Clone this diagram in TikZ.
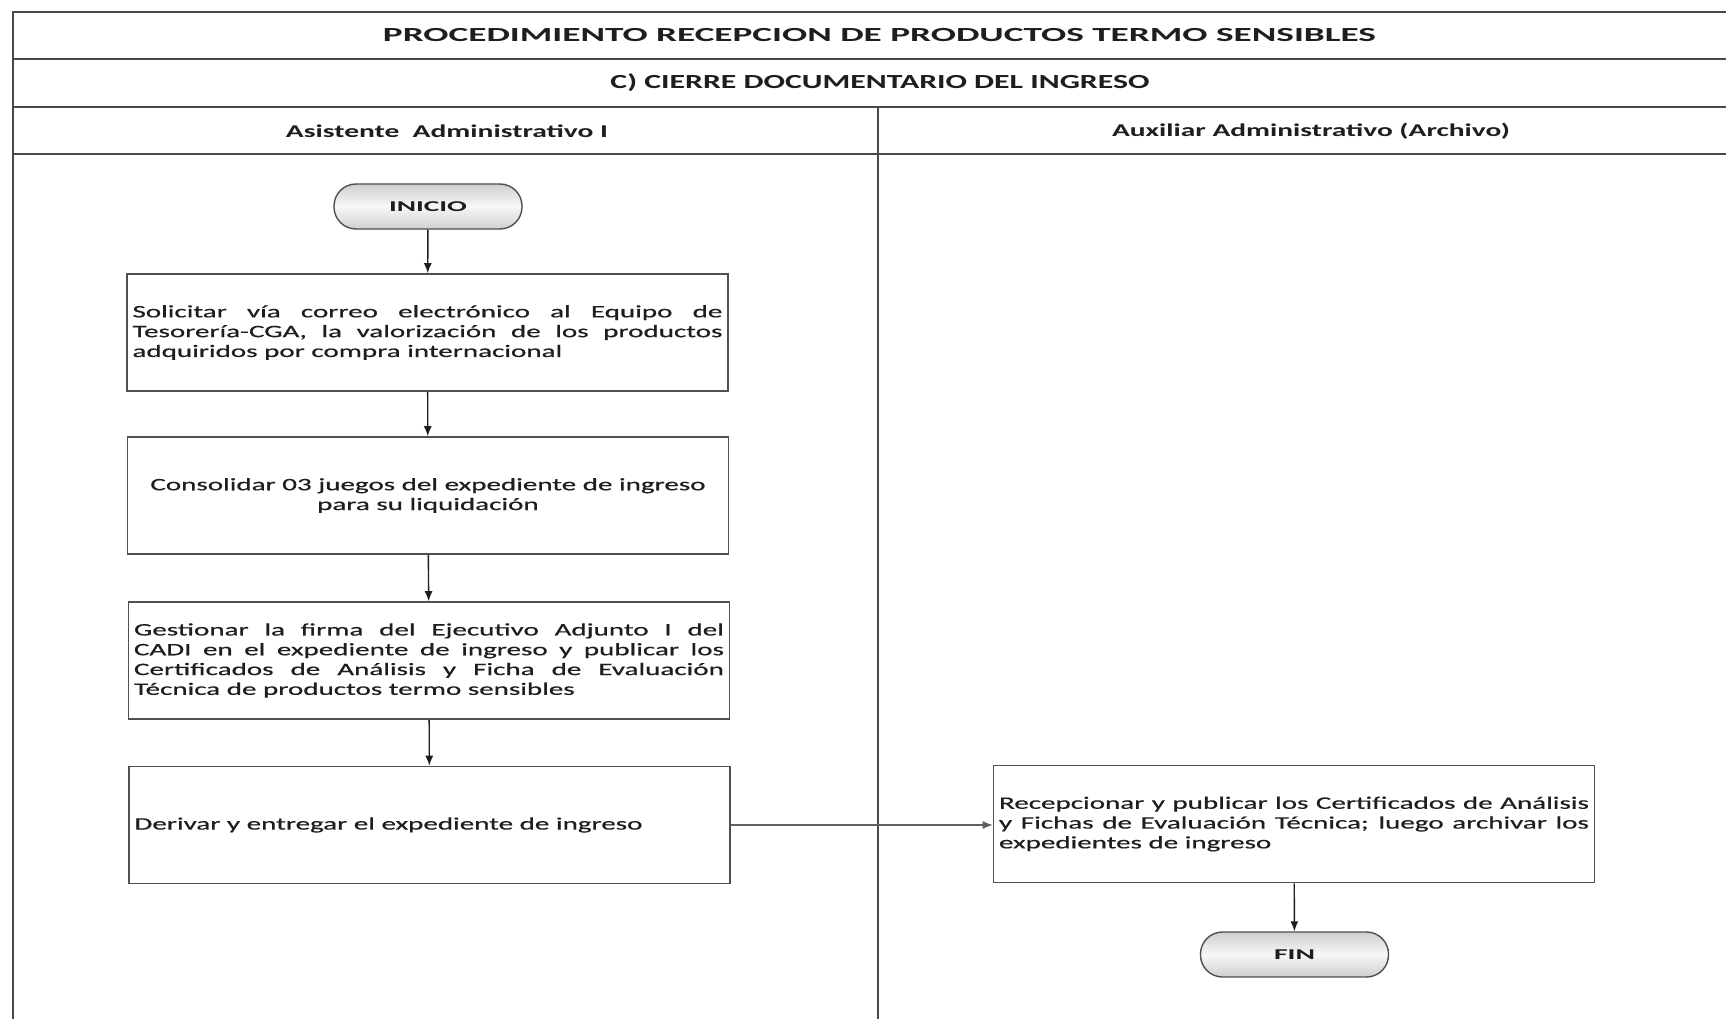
\documentclass[tikz,border=0pt]{standalone}
\usepackage{fontspec}
\usepackage{graphicx}
\setmainfont{Carlito}
\newfontfamily\bodyfont{Carlito}[FakeBold=0.45]
\usetikzlibrary{arrows.meta,shadings}

\definecolor{rule}{HTML}{4A4A4A}
\definecolor{ink}{HTML}{1E1E1E}
\definecolor{edge}{HTML}{505050}

% body paragraphs: set narrow, then widened horizontally
\newlength\bodyw \setlength\bodyw{355.4pt}
\newcommand\bodyscale{1.66}
\newcommand\jl[1]{\makebox[\linewidth][s]{#1}\par}
\newcommand\bodytext[1]{\scalebox{\bodyscale}[1]{\parbox{\bodyw}{\bodyfont\fontsize{17.5}{19.8}\selectfont #1}}}
% single bold line stretched to a given width
\newcommand\fitw[3]{\resizebox{#1}{\height}{\fontsize{#2}{#2}\selectfont\bfseries #3}}

\tikzset{
  stepbox/.style={draw=edge, line width=1.6pt, fill=white, minimum width=601pt,
    minimum height=117pt, inner sep=0pt, text=ink},
  terminal/.style={draw=edge, line width=1.4pt, rounded corners=22pt,
    minimum width=188pt, minimum height=45pt, inner sep=0pt, text=ink,
    top color=gray!38, bottom color=gray!38, middle color=gray!6},
  flow/.style={draw=ink, line width=1.4pt, -{Latex[length=10pt,width=8pt]}},
  handoff/.style={flow, draw=gray!75!black, line width=1.2pt},
  tablerule/.style={draw=rule, line width=2pt},
  heading/.style={text=ink, inner sep=0pt}
}

\begin{document}
\begin{tikzpicture}[x=1pt, y=-1pt]
\useasboundingbox[fill=white] (0,0) rectangle (1726,1019);

% table frame
\draw[tablerule] (13,1019) -- (13,12) -- (1726,12);
\draw[tablerule] (13,59.5) -- (1726,59.5);
\draw[tablerule] (13,107) -- (1726,107);
\draw[tablerule] (13,154.5) -- (1726,154.5);
\draw[tablerule] (878,107) -- (878,1019);

% headings
\node[heading] (title) at (879.5,35) {\fitw{993pt}{20}{PROCEDIMIENTO RECEPCION DE PRODUCTOS TERMO SENSIBLES}};
\node[heading] (sub) at (880,83) {\fitw{539pt}{20}{C) CIERRE DOCUMENTARIO DEL INGRESO}};
\node[heading] (laneA) at (447,131) {\fitw{322pt}{18}{Asistente\ \ Administrativo I}};
\node[heading] (laneB) at (1311,131) {\fitw{398pt}{18}{Auxiliar Administrativo (Archivo)}};

% flow steps
\node[terminal] (inicio) at (428,206.5) {\fitw{78pt}{15}{INICIO}};

\node[stepbox] (b1) at (427.5,332.5) {\bodytext{%
  \jl{Solicitar vía correo electrónico al Equipo de}
  \jl{Tesorería-CGA, la valorización de los productos}
  adquiridos por compra internacional}};

\node[stepbox] (b2) at (428,495.5) {\bodytext{\centering
  Consolidar 03 juegos del expediente de ingreso\\
  para su liquidación\par}};

\node[stepbox] (b3) at (429,660.5) {\bodytext{%
  \jl{Gestionar la firma del Ejecutivo Adjunto I del}
  \jl{CADI en el expediente de ingreso y publicar los}
  \jl{Certificados de Análisis y Ficha de Evaluación}
  Técnica de productos termo sensibles}};

\node[stepbox] (b4) at (429.5,825) {\bodytext{%
  Derivar y entregar el expediente de ingreso}};

\node[stepbox] (b5) at (1294,824) {\bodytext{%
  \jl{Recepcionar y publicar los Certificados de Análisis}
  \jl{y Fichas de Evaluación Técnica; luego archivar los}
  expedientes de ingreso}};

\node[terminal] (fin) at (1294.5,954.5) {\fitw{41pt}{15}{FIN}};

% connectors
\draw[flow] (inicio) -- (b1);
\draw[flow] (b1) -- (b2);
\draw[flow] (b2) -- (b3);
\draw[flow] (b3) -- (b4);
\draw[handoff] (b4.east) -- (b4.east -| b5.west);
\draw[flow] (b5) -- (fin);
\end{tikzpicture}
\end{document}
